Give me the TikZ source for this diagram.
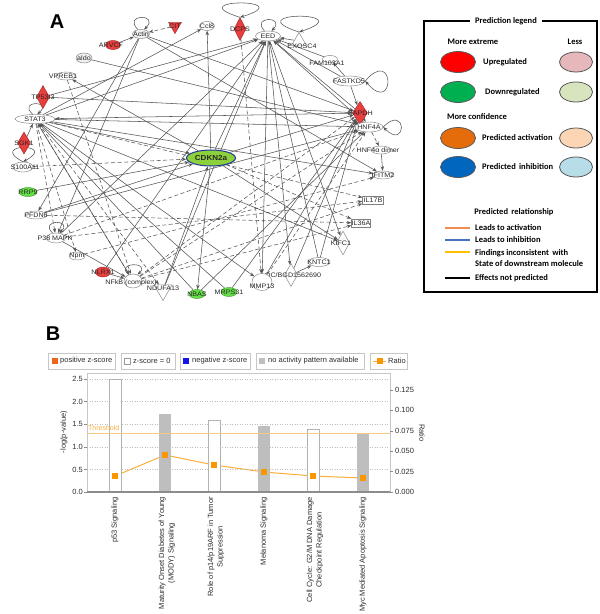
\documentclass[tikz,border=0pt]{standalone}
\usepackage{fontspec}
\setmainfont{Liberation Sans}
\newfontfamily\netfont[FakeStretch=1.1]{Liberation Sans}
\newfontfamily\legfont{Carlito}
\usetikzlibrary{shapes.geometric,arrows.meta,backgrounds}
\pgfdeclarelayer{bottom}
\pgfsetlayers{bottom,background,main}
\definecolor{netred}{RGB}{232,62,62}
\definecolor{netgreen}{RGB}{100,222,70}
\definecolor{cdkfill}{RGB}{140,208,60}
\definecolor{cdkline}{RGB}{35,55,150}
\definecolor{edgec}{RGB}{85,85,85}
\definecolor{lgred}{RGB}{255,0,0}
\definecolor{lgpink}{RGB}{230,184,188}
\definecolor{lggreen}{RGB}{0,176,80}
\definecolor{lglgreen}{RGB}{216,228,190}
\definecolor{lgorange}{RGB}{228,108,10}
\definecolor{lgpeach}{RGB}{252,213,181}
\definecolor{lgblue}{RGB}{0,102,190}
\definecolor{lglblue}{RGB}{183,221,232}
\definecolor{relorange}{RGB}{240,140,80}
\definecolor{relblue}{RGB}{70,114,196}
\definecolor{relyellow}{RGB}{255,192,0}
\definecolor{posorange}{RGB}{240,100,30}
\definecolor{negblue}{RGB}{20,20,230}
\definecolor{nagrey}{RGB}{190,190,190}
\definecolor{ratioline}{RGB}{250,175,60}
\definecolor{ratiosq}{RGB}{250,150,0}
\definecolor{thresh}{RGB}{250,200,130}
\definecolor{chtext}{RGB}{45,45,45}
\newcommand\chf{\fontsize{7.5}{9.5}\selectfont}
\newcommand\lgf{\legfont\bfseries\fontsize{8.5}{10}\selectfont}
\begin{document}
\begin{tikzpicture}[x=1pt,y=-1pt,
  gnode/.style={ellipse, draw=black!50, fill=white, inner sep=0pt, line width=0.45pt},
  rnode/.style={gnode, fill=netred, draw=netred!70!black},
  grnode/.style={gnode, fill=netgreen, draw=netgreen!70!black},
  rdia/.style={diamond, draw=netred!70!black, fill=netred, inner sep=0pt, line width=0.45pt},
  odia/.style={diamond, draw=black!50, fill=white, inner sep=0pt, line width=0.45pt},
  triup/.style={regular polygon, regular polygon sides=3, draw=black!50, fill=white, inner sep=0pt, line width=0.45pt},
  tridown/.style={triup, shape border rotate=180},
  gbox/.style={rectangle, draw=black!50, fill=white, inner sep=0pt, line width=0.45pt},
  every label/.style={font=\netfont\fontsize{6.5}{7}\selectfont, inner sep=0pt, text=black!85},
  ed/.style={draw=edgec, line width=0.55pt, -{Stealth[length=4.5pt,width=3.4pt]}},
  dd/.style={ed, dash pattern=on 4pt off 2.5pt},
  lgell/.style={ellipse, draw=black!65, line width=0.8pt, inner sep=0pt, minimum width=35, minimum height=21},
  lgsell/.style={lgell, minimum width=33, minimum height=20},
  lgtxt/.style={font=\lgf, anchor=west, inner sep=0pt},
  rel/.style={line width=2.2pt},
  lgbox/.style={draw=black!22, line width=0.7pt, fill=white},
  chlab/.style={font=\chf, text=chtext, inner sep=0pt},
  catlab/.style={chlab, rotate=90, anchor=east, align=center},
  wbar/.style={draw=black!30, line width=0.7pt, fill=white},
  gbar/.style={fill=nagrey},
  rsq/.style={fill=ratiosq, draw=none, minimum size=5.5pt, inner sep=0pt, rectangle},
]
\begin{pgfonlayer}{bottom}
\fill[white] (0,0) rectangle (600,614);
\end{pgfonlayer}
\useasboundingbox (0,0) rectangle (600,614);

% ---------------- Panel A ----------------
\node[font=\bfseries\fontsize{20}{20}\selectfont, inner sep=0] (labA) at (57,22) {A};

\node[gnode, fill=black!6, minimum width=17, minimum height=9, label=center:Actin] (actin) at (141,34) {};
\node[tridown, fill=netred, draw=netred!70!black, minimum size=15, label=center:CIT] (cit) at (175,26) {};
\node[rnode, minimum width=15, minimum height=9, label={[xshift=-2]center:ARVCF}] (arvcf) at (113,45) {};
\node[gnode, fill=black!6, minimum width=16, minimum height=10, label=center:aldo] (aldo) at (84,58) {};
\node[gnode, minimum width=15, minimum height=9, label=center:Ccl8] (ccl8) at (207,26) {};
\node[rdia, minimum width=12, minimum height=23, label=center:DCPS] (dcps) at (240,29) {};
\node[gnode, minimum width=25, minimum height=10, label=center:EED] (eed) at (268,36) {};
\node[triup, minimum size=17, label={[xshift=3,yshift=-5]center:EXOSC4}] (exosc) at (299,41) {};
\node[gnode, minimum width=15, minimum height=7, label={[xshift=-3,yshift=-4]center:FAM103A1}] (fam) at (330,59) {};
\node[gnode, minimum width=32, minimum height=10, label=center:FASTKD5] (fast) at (349,81) {};
\node[rdia, minimum width=15, minimum height=23, label=center:GAPDH] (gapdh) at (360,113) {};
\node[gnode, minimum width=28, minimum height=10, label=center:HNF4A] (hnf) at (369,127) {};
\node[gnode, minimum width=20, minimum height=8, label={[xshift=-3]center:HNF4α dimer}] (hnfd) at (381,150) {};
\node[gnode, minimum width=21, minimum height=8, label=center:IFITM2] (ifitm) at (383,175) {};
\node[gbox, minimum width=21, minimum height=8, label=center:IL17B] (il17b) at (373,200) {};
\node[gbox, minimum width=19, minimum height=8, label=center:IL36A] (il36a) at (361,223) {};
\node[odia, minimum width=13, minimum height=24, label={[xshift=-2]center:KIFC1}] (kifc) at (343,243) {};
\node[gnode, minimum width=22, minimum height=9, label=center:KNTC1] (kntc) at (319,262) {};
\node[odia, minimum width=13, minimum height=23, label=center:LOC/BGD1562690] (loc) at (291,275) {};
\node[gnode, minimum width=20, minimum height=17, label={[yshift=-4]center:MMP13}] (mmp) at (262,282) {};
\node[grnode, minimum width=16, minimum height=9, label=center:MRPS31] (mrps) at (229,292) {};
\node[grnode, minimum width=16, minimum height=9, label=center:NBAS] (nbas) at (197,294) {};
\node[tridown, minimum size=21, label={[yshift=2]center:NDUFA13}] (ndufa) at (163,290) {};
\node[gnode, minimum width=18, minimum height=14, label={[xshift=-2,yshift=-2]center:NFkB (complex)}] (nfkb) at (133,281) {};
\node[rnode, minimum width=15, minimum height=10, label=center:NLRX1] (nlrx) at (103,272) {};
\node[gnode, minimum width=16, minimum height=8, label=center:Npm] (npm) at (77,256) {};
\node[gnode, minimum width=19, minimum height=10, label={[xshift=-1]center:P38 MAPK}] (p38) at (56,238) {};
\node[gnode, minimum width=22, minimum height=8, label=center:PFDN6] (pfdn) at (36,215) {};
\node[grnode, minimum width=18, minimum height=9, label=center:RRP9] (rrp9) at (28,192) {};
\node[gnode, minimum width=20, minimum height=10, label={[xshift=2]center:S100A11}] (s100) at (23,167) {};
\node[rdia, minimum width=13, minimum height=22, label=center:SGK1] (sgk) at (24,143) {};
\node[gnode, minimum width=40, minimum height=9, label=center:STAT3] (stat3) at (35,119) {};
\node[rdia, minimum width=13, minimum height=23, label=center:TP53I3] (tp53) at (43,97) {};
\node[gnode, minimum width=20, minimum height=8, label={[xshift=-3]center:VPREB1}] (vpreb) at (66,76) {};
\node[ellipse, fill=cdkfill, draw=cdkline, line width=1pt, inner sep=0pt, minimum width=49, minimum height=16,
      label={[font=\netfont\bfseries\fontsize{7.3}{8}\selectfont]center:CDKN2a}] (cdkn) at (211,158) {};

\begin{scope}[on background layer]
% self loops
\draw[ed] (actin.125) .. controls +(-16,-16) and +(16,-16) .. (actin.55);
\draw[ed] (eed.125) .. controls +(-14,-15) and +(14,-15) .. (eed.55);
\draw[ed] (dcps.north) .. controls +(-62,-19) and +(62,-19) .. (dcps.north);
\draw[ed] (exosc.north) .. controls +(-64,-21) and +(64,-21) .. (exosc.north);
\draw[ed] (fast.east) .. controls +(30,-35) and +(30,35) .. (fast.east);
\draw[ed] (hnf.east) .. controls +(24,-24) and +(24,24) .. (hnf.east);
\draw[ed] (stat3.115) .. controls +(-16,-14) and +(16,-14) .. (stat3.65);
\draw[ed] (s100.north) .. controls +(-36,-19) and +(36,-19) .. (s100.north);
\draw[ed] (p38.125) .. controls +(-14,-14) and +(14,-14) .. (p38.55);
\draw[ed] (nfkb.125) .. controls +(-14,-13) and +(14,-13) .. (nfkb.55);
% edges
\draw[ed] (arvcf) -- (actin);
\draw[dd] (cit) -- (actin);
\draw[ed] (actin) -- (pfdn);
\draw[ed] (actin) -- (p38);
\draw[ed] (actin) -- (gapdh);
\draw[ed] (actin) -- (ifitm);
\draw[ed] (aldo) -- (hnf);
\draw[ed] (stat3) -- (ccl8);
\draw[ed] (stat3) -- (eed);
\draw[ed] (stat3) -- (cdkn);
\draw[ed] (stat3) -- (hnf);
\draw[ed] (stat3) -- (ifitm);
\draw[ed] (stat3) -- (kifc);
\draw[dd] (stat3) -- (il17b);
\draw[dd] (stat3) -- (nfkb);
\draw[dd] (stat3) -- (ndufa);
\draw[dd] (stat3) -- (npm);
\draw[dd] (stat3) -- (p38);
\draw[ed] (stat3) -- (mmp);
\draw[ed] (tp53) -- (eed);
\draw[ed] (tp53) -- (gapdh);
\draw[ed] (sgk) -- (stat3);
\draw[ed] (cdkn) -- (vpreb);
\draw[dd] (vpreb) -- (nfkb);
\draw[ed] (cdkn) -- (ccl8);
\draw[ed] (cdkn) -- (eed);
\draw[ed] (cdkn) -- (gapdh);
\draw[dd] (cdkn) -- (il36a);
\draw[ed] (cdkn) -- (nbas);
\draw[ed] (cdkn) -- (kifc);
\draw[dd] (s100) -- (cdkn);
\draw[ed] (rrp9) -- (cdkn);
\draw[ed] (pfdn) -- (cdkn);
\draw[ed] (pfdn) -- (hnf);
\draw[dd] (pfdn) -- (il36a);
\draw[dd] (p38) -- (il17b);
\draw[dd] (p38) -- (hnf);
\draw[ed] (p38) -- (nfkb);
\draw[ed] (p38) -- (eed);
\draw[dd] (npm) -- (ifitm);
\draw[ed] (nlrx) -- (nfkb);
\draw[ed] (nlrx) -- (eed);
\draw[dd] (nfkb) -- (gapdh);
\draw[dd] (nfkb) -- (il36a);
\draw[dd] (nfkb) -- (il17b);
\draw[dd] (nfkb) -- (hnf);
\draw[ed] (nfkb) -- (stat3);
\draw[ed] (ndufa) -- (eed);
\draw[ed] (ndufa) -- (cdkn);
\draw[ed] (nbas) -- (stat3);
\draw[ed] (nbas) -- (hnf);
\draw[ed] (mrps) -- (stat3);
\draw[ed] (mrps) -- (gapdh);
\draw[dd] (mmp) -- (hnf);
\draw[dd] (dcps) -- (mmp);
\draw[ed] (mmp) -- (gapdh);
\draw[ed] (loc) -- (gapdh);
\draw[ed] (loc) -- (kntc);
\draw[ed] (kntc) -- (eed);
\draw[ed] (kntc) -- (gapdh);
\draw[ed] (eed) -- (loc);
\draw[ed] (eed) -- (mmp);
\draw[ed] (eed) -- (kifc);
\draw[ed] (exosc) -- (eed);
\draw[ed] (fam) -- (eed);
\draw[ed] (fast) -- (eed);
\draw[ed] (fast) -- (fam);
\draw[ed] (gapdh) -- (eed);
\draw[ed] (hnf) -- (eed);
\draw[ed] (fast) -- (gapdh);
\draw[ed] (gapdh) -- (hnf);
\draw[dd] (hnf) -- (hnfd);
\draw[ed] (hnfd) -- (ifitm);
\draw[ed] (gapdh) -- (stat3);
\end{scope}

% ---------------- Prediction legend ----------------
\draw[line width=1.2pt] (424,21) rectangle (597,292);
\node[fill=white, font=\lgf, inner xsep=5pt, inner ysep=1pt] (lgtitle) at (506,21) {Prediction legend};
\node[font=\lgf, inner sep=0pt] (lgme) at (473,42) {More extreme};
\node[font=\lgf, inner sep=0pt] (lgless) at (575,42) {Less};
\node[lgell, fill=lgred] (e1) at (458,62) {};
\node[lgsell, fill=lgpink] (e2) at (576,62) {};
\node[lgtxt] (t1) at (483,62) {Upregulated};
\node[lgell, fill=lggreen] (e3) at (458,92) {};
\node[lgsell, fill=lglgreen] (e4) at (576,92) {};
\node[lgtxt] (t2) at (485,92) {Downregulated};
\node[lgtxt] (lgmc) at (447,117) {More confidence};
\node[lgell, fill=lgorange] (e5) at (458,138) {};
\node[lgsell, fill=lgpeach] (e6) at (576,138) {};
\node[lgtxt] (t3) at (482,138) {Predicted activation};
\node[lgell, fill=lgblue] (e7) at (458,167) {};
\node[lgsell, fill=lglblue] (e8) at (576,167) {};
\node[lgtxt] (t4) at (482,167) {Predicted\, inhibition};
\node[font=\lgf, inner sep=0pt] (lgpr) at (514,212) {Predicted\, relationship};
\coordinate (ra1) at (445,228); \coordinate (ra2) at (470,228);
\coordinate (rb1) at (445,240); \coordinate (rb2) at (470,240);
\coordinate (rc1) at (445,252); \coordinate (rc2) at (470,252);
\coordinate (rd1) at (445,278); \coordinate (rd2) at (470,278);
\draw[rel, relorange] (ra1) -- (ra2);
\draw[rel, relblue] (rb1) -- (rb2);
\draw[rel, relyellow] (rc1) -- (rc2);
\draw[rel, black] (rd1) -- (rd2);
\node[lgtxt] (r1) at (475,228) {Leads to activation};
\node[lgtxt] (r2) at (475,240) {Leads to inhibition};
\node[lgtxt] (r3) at (475,253) {Findings inconsistent\, with};
\node[lgtxt] (r3b) at (475,264) {State of downstream molecule};
\node[lgtxt] (r4) at (475,278) {Effects not predicted};

% ---------------- Panel B ----------------
\node[font=\bfseries\fontsize{20}{20}\selectfont, inner sep=0] (labB) at (53,334) {B};

% legend row
\draw[lgbox] (48,353) rectangle (115,369);
\fill[posorange] (52,358) rectangle (58,364);
\node[chlab, anchor=west] (b1) at (60,361) {positive z-score};
\draw[lgbox] (121,353) rectangle (175,369);
\draw[draw=black!40, fill=white, line width=0.5pt] (124.5,358) rectangle (130.5,364);
\node[chlab, anchor=west] (b2) at (133,361) {z-score = 0};
\draw[lgbox] (180,353) rectangle (250,369);
\fill[negblue] (183,358) rectangle (189,364);
\node[chlab, anchor=west] (b3) at (192,361) {negative z-score};
\draw[lgbox] (256,353) rectangle (364,369);
\fill[nagrey] (259,358) rectangle (265,364);
\node[chlab, anchor=west] (b4) at (268,361) {no activity pattern available};
\draw[lgbox] (370,353) rectangle (407,369);
\draw[ratioline, line width=1pt] (373,361) -- (386,361);
\fill[ratiosq] (376.5,358) rectangle (382.5,364);
\node[chlab, anchor=west] (b5) at (388,361) {Ratio};

% plot frame and grid
\draw[black!22, line width=0.7pt] (87,492) -- (87,373) -- (390,373) -- (390,492);
\foreach \yy in {379,401.5,424,447,469.5} \draw[black!25, line width=0.5pt, dotted] (87,\yy) -- (390,\yy);
% left ticks
\foreach \yy/\tl in {379/2.5,401.5/2.0,424/1.5,447/1.0,469.5/0.5,492/0.0} {
  \draw[black!45, line width=0.5pt] (84,\yy) -- (87,\yy);
  \node[chlab, anchor=east] at (83,\yy) {\tl};
}
% right ticks
\foreach \yy/\tl in {390/0.125,410.4/0.100,430.8/0.075,451.2/0.050,471.6/0.025,492/0.000} {
  \draw[black!45, line width=0.5pt] (390,\yy) -- (393,\yy);
  \node[chlab, anchor=west] at (395,\yy) {\tl};
}
\node[chlab, rotate=90] (ylab) at (64,432) {-log(p-value)};
\node[chlab, rotate=-90] (rlab) at (422,433) {Ratio};

% bars
\draw[wbar] (109,379) rectangle (121,492);
\fill[gbar] (159,414) rectangle (171,492);
\draw[wbar] (208,420) rectangle (220,492);
\fill[gbar] (258,426) rectangle (270,492);
\draw[wbar] (307,429) rectangle (319,492);
\fill[gbar] (357,433) rectangle (369,492);

% threshold
\draw[thresh, line width=0.8pt] (87,433) -- (390,433);
\node[chlab, text=ratioline, anchor=south west, font=\fontsize{7}{8}\selectfont] (thr) at (88,431) {Threshold};

% axis
\draw[black!45, line width=1.3pt] (87,492) -- (390,492);

% ratio line
\node[rsq] (q1) at (115,476) {};
\node[rsq] (q2) at (165,455) {};
\node[rsq] (q3) at (214,465) {};
\node[rsq] (q4) at (264,472) {};
\node[rsq] (q5) at (313,476) {};
\node[rsq] (q6) at (363,478) {};
\begin{scope}[on background layer]
\draw[ratioline, line width=1pt] (q1.center) -- (q2.center) -- (q3.center) -- (q4.center) -- (q5.center) -- (q6.center);
\end{scope}

% category labels
\node[catlab] (c1) at (115,497) {p53 Signaling};
\node[catlab] (c2) at (167,497) {Maturity Onset Diabetes of Young\\(MODY) Signaling};
\node[catlab] (c3) at (216,497) {Role of p14/p19ARF in Tumor\\Suppression};
\node[catlab] (c4) at (264,497) {Melanoma Signaling};
\node[catlab] (c5) at (315,497) {Cell Cycle: G2/M DNA Damage\\Checkpoint Regulation};
\node[catlab] (c6) at (363,497) {Myc Mediated Apoptosis Signaling};
\end{tikzpicture}
\end{document}
